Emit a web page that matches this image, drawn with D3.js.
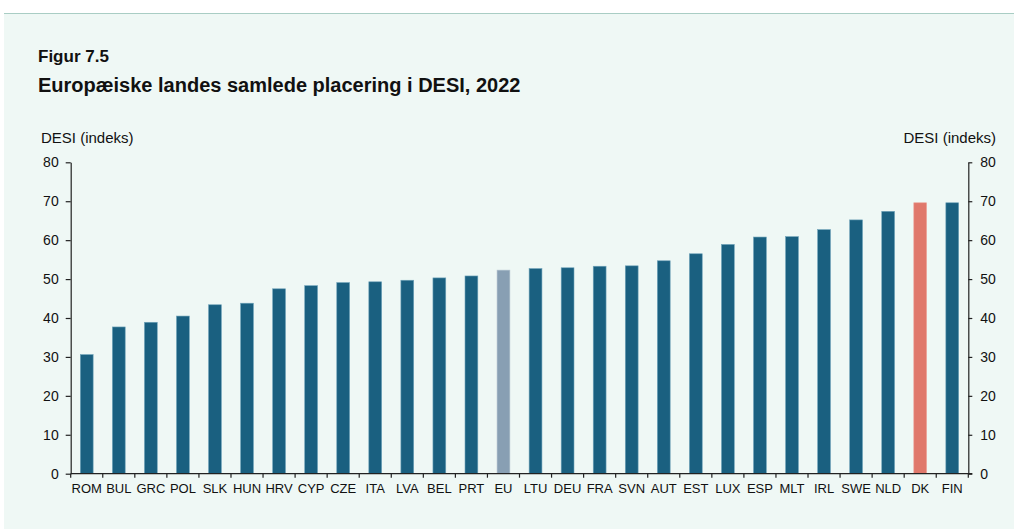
<!DOCTYPE html>
<html>
<head>
<meta charset="utf-8">
<script src="https://cdn.jsdelivr.net/npm/d3@7/dist/d3.min.js"></script>
<style>
  html, body { margin: 0; padding: 0; background: #ffffff; }
  svg { display: block; font-family: "Liberation Sans", Arial, Helvetica, sans-serif; }
</style>
</head>
<body>
<svg id="chart" width="1014" height="529"></svg>
<script>
// DESI 2022 samlet score pr. land
const countries = ["ROM","BUL","GRC","POL","SLK","HUN","HRV","CYP","CZE","ITA","LVA","BEL","PRT","EU",
                   "LTU","DEU","FRA","SVN","AUT","EST","LUX","ESP","MLT","IRL","SWE","NLD","DK","FIN"];
const desiScores = [30.6,37.7,38.9,40.5,43.4,43.8,47.5,48.3,49.1,49.3,49.7,50.3,50.8,52.3,
                    52.7,52.9,53.3,53.4,54.7,56.5,58.9,60.8,60.9,62.7,65.2,67.4,69.6,69.6];
const yTicks = [0,10,20,30,40,50,60,70,80];
const titleLines = ["Figur 7.5", "Europæiske landes samlede placering i DESI, 2022"];
const axisLabel = "DESI (indeks)";

const svg = d3.select("#chart");
const W = 1014, H = 529;

// Panel background with top rule
svg.append("rect").attr("x", 4).attr("y", 13).attr("width", W - 4).attr("height", H - 13)
  .attr("fill", "#eff8f5");
svg.append("line").attr("x1", 4).attr("x2", W).attr("y1", 13.5).attr("y2", 13.5)
  .attr("stroke", "#a9cdc4").attr("stroke-width", 1);

// Titles
svg.append("text").attr("x", 38).attr("y", 62).text(titleLines[0])
  .attr("font-size", 17).attr("font-weight", "bold").attr("fill", "#111");
svg.append("text").attr("x", 38).attr("y", 92).text(titleLines[1])
  .attr("font-size", 20).attr("font-weight", "bold").attr("fill", "#111");

const plotLeft = 70.7, plotRight = 968.3, plotTop = 162.3, plotBottom = 473.7;

const x = d3.scaleBand().domain(countries).range([plotLeft, plotRight]).paddingInner(0.6).paddingOuter(0.3);
const y = d3.scaleLinear().domain([0, 80]).range([plotBottom, plotTop]);

// Axis titles
svg.append("text").attr("x", 41).attr("y", 143).text(axisLabel)
  .attr("font-size", 15).attr("fill", "#111");
svg.append("text").attr("x", 996).attr("y", 143).attr("text-anchor", "end").text(axisLabel)
  .attr("font-size", 15).attr("fill", "#111");

// Bars
const barColor = c => c === "DK" ? "#e0786b" : (c === "EU" ? "#889fb3" : "#1a6080");
svg.append("g").selectAll("rect").data(countries).join("rect")
  .attr("x", d => x(d))
  .attr("width", x.bandwidth())
  .attr("y", (d, i) => y(desiScores[i]))
  .attr("height", (d, i) => y(0) - y(desiScores[i]))
  .attr("fill", d => barColor(d))
  .attr("stroke", d => d === "DK" ? "#eea69c" : (d === "EU" ? "#b3c3cf" : "#6fa3b9"))
  .attr("stroke-width", 0.6);

// Left and right value axes
const styleAxis = g => {
  g.select(".domain").attr("stroke", "#222").attr("stroke-width", 1.2);
  g.selectAll(".tick line").attr("stroke", "#222").attr("stroke-width", 1.2);
  g.selectAll(".tick text").attr("fill", "#111").attr("font-size", 14)
    .attr("font-family", "'Liberation Sans', Arial, sans-serif");
};
svg.append("g").attr("transform", `translate(${plotLeft},0)`)
  .call(d3.axisLeft(y).tickValues(yTicks).tickSize(5).tickSizeOuter(0).tickPadding(7))
  .call(styleAxis);
svg.append("g").attr("transform", `translate(${plotRight},0)`)
  .call(d3.axisRight(y).tickValues(yTicks).tickSize(4).tickSizeOuter(0).tickPadding(8))
  .call(styleAxis);

// Category axis: ticks at band boundaries, labels centred on bands
const xAxis = svg.append("g");
xAxis.append("line").attr("x1", plotLeft).attr("x2", plotRight + 4).attr("y1", plotBottom).attr("y2", plotBottom)
  .attr("stroke", "#222").attr("stroke-width", 1.2);
const boundaries = d3.range(countries.length + 1).map(i => plotLeft + i * (plotRight - plotLeft) / countries.length);
xAxis.selectAll("line.tk").data(boundaries).join("line").attr("class", "tk")
  .attr("x1", d => d).attr("x2", d => d).attr("y1", plotBottom).attr("y2", plotBottom + 4)
  .attr("stroke", "#222").attr("stroke-width", 1.2);
xAxis.selectAll("text").data(countries).join("text")
  .attr("x", d => x(d) + x.bandwidth() / 2)
  .attr("y", 493)
  .attr("text-anchor", "middle")
  .attr("font-size", 13)
  .attr("fill", "#111")
  .text(d => d);
</script>
</body>
</html>
